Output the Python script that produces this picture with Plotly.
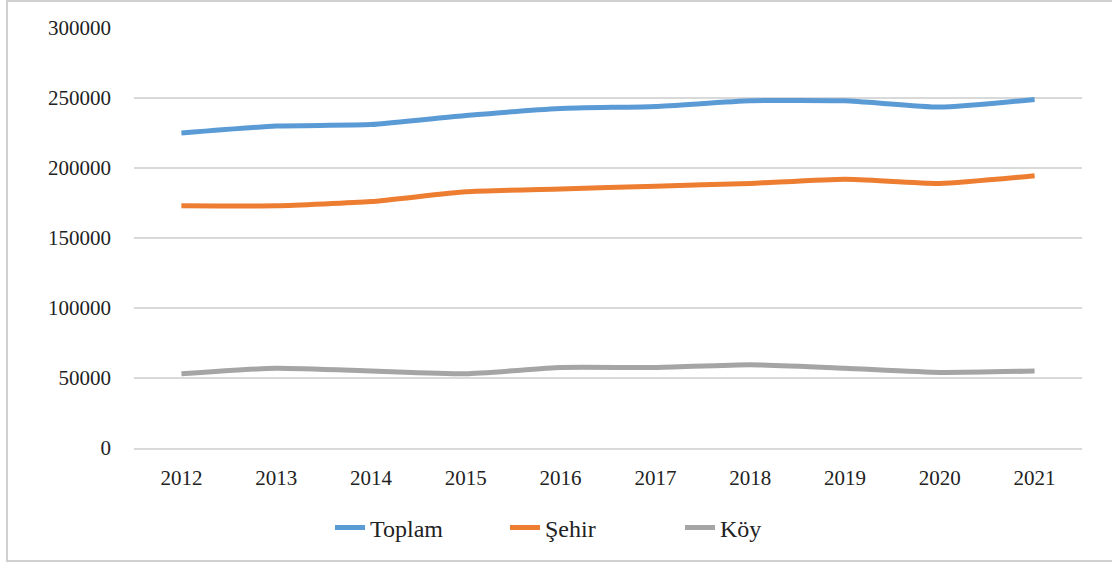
import plotly.graph_objects as go

# yearly values
years = ["2012", "2013", "2014", "2015", "2016", "2017", "2018", "2019", "2020", "2021"]
toplam = [225000, 230000, 231000, 237500, 242500, 244000, 248000, 248000, 243500, 249000]
sehir = [173000, 173000, 176000, 183000, 185000, 187000, 189000, 192000, 189000, 194500]
koy = [53000, 57000, 55000, 53000, 57500, 57500, 59500, 57000, 54000, 55000]

series = [
    ("Toplam", toplam, "#5B9BD5"),
    ("Şehir", sehir, "#ED7D31"),
    ("Köy", koy, "#A5A5A5"),
]

fig = go.Figure()
for name, vals, color in series:
    fig.add_trace(go.Scatter(
        x=years, y=vals, name=name, mode="lines",
        line=dict(color=color, width=5, shape="spline", smoothing=0.5),
    ))

serif = "Liberation Serif"

fig.update_layout(
    width=1112, height=564,
    margin=dict(l=134, r=30, t=28, b=116),
    paper_bgcolor="white", plot_bgcolor="white",
    font=dict(family=serif, size=21, color="#222222"),
    showlegend=True,
    legend=dict(orientation="h", x=(330 - 134) / 948, xanchor="left", y=-0.19, yanchor="middle",
                font=dict(family=serif, size=24, color="#222222"),
                entrywidth=130, entrywidthmode="pixels", tracegroupgap=0),
    # thin frame around the whole chart (right edge runs off the image)
    shapes=[dict(type="rect", xref="paper", yref="paper",
                 x0=(7 - 134) / 948, x1=(1125 - 134) / 948,
                 y0=(448 - 561) / 420, y1=(448 - 1) / 420,
                 line=dict(color="#D0D0D0", width=2))],
)
fig.update_xaxes(type="category", range=[-0.5, 9.5], showgrid=False,
                 showline=True, linecolor="#D9D9D9", linewidth=2,
                 ticks="", ticklabelstandoff=10)
fig.update_yaxes(range=[0, 300000], dtick=50000, tickformat="d",
                 showgrid=True, gridcolor="#D9D9D9", gridwidth=2,
                 zeroline=False, showline=False, ticks="", ticklabelstandoff=22)

# drop the default 8px page margin so the figure fills the window
fig.write_html("out.html", config={"displayModeBar": False},
               post_script="document.body.style.margin='0';")
